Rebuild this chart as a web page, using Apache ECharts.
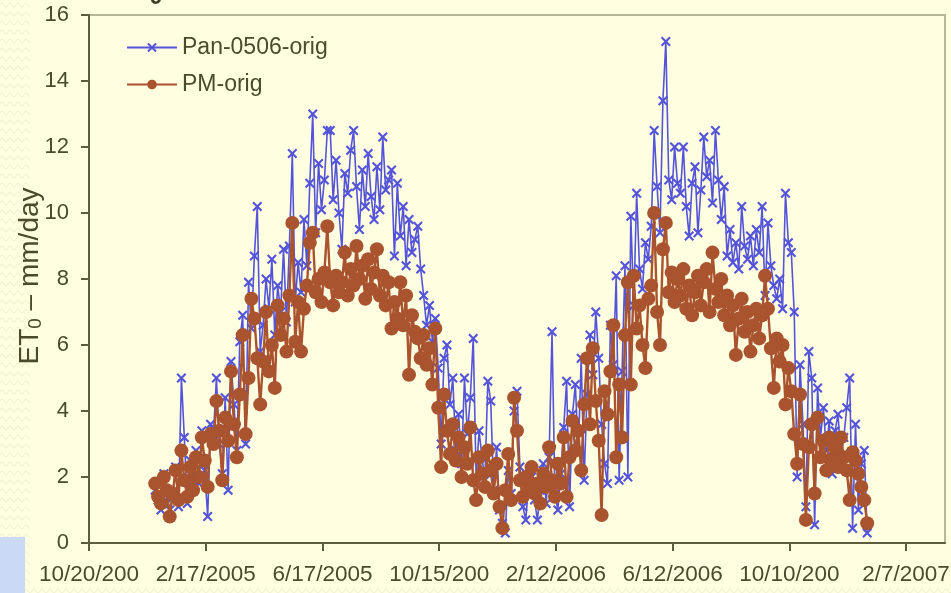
<!DOCTYPE html>
<html><head><meta charset="utf-8">
<script src="https://cdn.jsdelivr.net/npm/echarts@6/dist/echarts.min.js"></script>
<style>html,body{margin:0;padding:0;background:#fffee0}#c{width:951px;height:593px}</style>
</head><body><div id="c"></div>
<script>
// ---- data ----
const axisStart = '2004-10-20';          // x axis origin
const firstDate = '2004-12-27';          // first sample
const stepDays = 3;                      // days between samples
const tickDays = [0, 120, 240, 360, 480, 600, 720, 840];
const tickLabels = ['10/20/200', '2/17/2005', '6/17/2005', '10/15/200', '2/12/2006', '6/12/2006', '10/10/200', '2/7/2007'];
const yTicks = [0, 2, 4, 6, 8, 10, 12, 14, 16];

const pan = [
1.6,1.3,1.0,2.1,1.2,1.0,1.4,2.3,1.1,5.0,
3.2,1.2,2.5,1.9,2.8,1.8,3.4,2.2,0.8,3.6,
3.3,5.0,3.0,2.1,4.4,1.6,5.5,4.2,2.8,6.1,
6.9,3.0,7.9,6.5,8.7,10.2,5.8,6.6,8.0,7.1,
8.6,6.3,7.8,7.0,8.9,6.7,9.0,11.8,7.3,8.5,
7.6,9.8,8.4,10.9,13.0,9.4,11.5,10.1,11.0,12.5,
12.5,10.4,11.6,10.0,8.9,11.2,10.6,11.9,12.5,10.8,
9.5,11.3,10.2,11.8,10.5,9.8,11.4,10.1,12.3,10.7,
11.0,11.3,8.7,10.9,9.3,10.2,8.4,9.8,8.8,9.2,
9.6,8.3,7.5,6.6,7.2,6.1,6.8,5.3,3.0,5.6,
6.0,4.2,5.0,2.8,3.9,2.4,5.0,3.3,4.4,6.2,
2.0,3.4,2.6,1.9,4.9,4.3,1.6,2.9,1.0,0.6,
0.3,2.2,1.5,4.0,4.6,2.3,1.1,0.7,1.8,2.0,
1.3,0.7,1.6,2.4,1.2,2.6,6.4,1.5,1.0,2.1,
3.5,4.9,1.1,3.9,4.8,2.7,5.6,1.9,4.5,6.3,
5.1,7.0,5.6,3.6,2.4,1.8,6.6,5.4,8.1,1.9,
5.2,8.4,2.0,9.9,7.2,10.6,8.3,7.7,9.1,8.6,
9.6,12.5,10.8,9.4,13.4,15.2,11.0,10.4,12.0,10.9,
10.6,12.0,10.2,9.3,10.9,11.4,9.4,10.7,12.3,11.1,
11.6,10.3,12.5,11.0,9.8,10.8,8.7,9.5,8.5,9.1,
8.3,10.2,9.0,8.6,9.3,8.4,9.5,8.8,10.2,7.5,
9.7,8.4,7.8,7.4,8.0,7.1,10.6,9.1,8.8,7.0,
2.0,5.4,3.6,1.1,5.8,5.0,0.55,4.7,3.2,4.1,
2.8,3.7,2.1,3.4,3.9,2.6,3.2,4.1,5.0,0.45,
3.6,1.0,2.4,2.8,0.3
];

const pm = [
1.8,1.4,1.2,2.0,1.6,0.8,1.5,2.2,1.3,2.8,
1.9,1.4,2.3,1.6,2.6,2.0,3.2,2.5,1.7,3.3,
3.0,4.3,3.4,1.9,3.8,3.1,5.2,3.6,2.6,4.5,
6.3,3.3,5.0,7.4,6.8,5.6,4.2,5.5,7.0,5.2,
6.0,4.7,7.2,6.3,6.8,5.8,7.5,9.7,6.1,7.3,
5.8,7.1,7.8,9.1,9.4,7.6,8.0,7.3,8.2,9.6,
7.9,7.2,8.1,7.6,7.9,8.8,7.5,8.3,7.8,9.0,
8.0,8.4,7.4,8.6,7.7,8.2,8.9,7.5,8.1,7.2,
7.9,6.5,7.3,6.8,7.9,6.6,7.5,5.1,6.9,6.4,
6.2,5.6,6.3,5.4,5.9,4.8,6.5,4.1,2.3,4.5,
3.4,2.7,3.6,2.5,3.2,2.0,2.9,2.4,3.5,1.9,
1.3,2.6,2.1,1.7,2.8,2.2,1.5,2.4,1.1,0.45,
1.6,2.7,1.3,4.4,3.4,1.9,1.4,2.0,1.6,2.3,
1.5,1.8,1.2,2.1,1.7,2.9,1.9,1.4,2.4,1.8,
3.2,1.4,2.6,3.7,2.8,3.4,2.2,4.2,5.6,3.6,
5.9,4.3,3.1,0.85,4.6,3.9,5.2,6.6,2.6,4.8,
3.2,6.3,7.9,4.8,8.1,6.5,7.2,6.0,5.3,7.4,
7.8,10.0,7.0,6.0,8.9,9.7,7.6,8.2,7.3,8.0,
7.5,8.3,7.1,7.8,6.9,7.6,8.1,7.2,7.9,8.3,
7.0,8.8,7.7,7.3,8.0,6.9,7.5,6.6,7.2,5.7,
6.8,7.4,6.4,7.0,5.8,6.6,7.1,6.2,6.9,8.1,
7.1,5.9,4.7,6.2,5.5,6.0,4.2,5.3,4.6,3.3,
2.4,4.5,3.0,0.7,2.9,3.6,1.5,3.8,2.6,3.1,
2.2,3.2,2.5,2.9,2.3,3.2,2.6,2.2,1.3,2.75,
2.5,2.1,1.7,1.3,0.6
];

// ---- build ----
const DAY = 86400000;
const offset0 = (Date.parse(firstDate) - Date.parse(axisStart)) / DAY;
const toPairs = arr => arr.map((v, i) => [offset0 + i * stepDays, v]);

const txt = '#4b4b2c';
const axisCol = '#5d5d3e';
const font = "'Liberation Sans', Arial, sans-serif";
const xSym = 'path://M0,1.5L1.5,0L5,3.5L8.5,0L10,1.5L6.5,5L10,8.5L8.5,10L5,6.5L1.5,10L0,8.5L3.5,5Z';

// wavy texture for the border area
const pc = document.createElement('canvas');
pc.width = 8; pc.height = 9;
const g = pc.getContext('2d');
g.fillStyle = '#fffee0'; g.fillRect(0, 0, 8, 9);
g.strokeStyle = '#f1efcf'; g.lineWidth = 1;
g.beginPath(); g.moveTo(0, 5); g.quadraticCurveTo(2, 1, 4, 5); g.quadraticCurveTo(6, 9, 8, 5); g.stroke();

const chart = echarts.init(document.getElementById('c'), null, {renderer: 'canvas'});
chart.setOption({
  animation: false,
  backgroundColor: '#fffee0',
  textStyle: {fontFamily: font},
  grid: {left: 89, top: 15, right: 6, bottom: 50, show: true, borderColor: '#b6b69a', borderWidth: 2,
         backgroundColor: '#fffee0', outerBoundsMode: 'none', containLabel: false},
  legend: {
    left: 121, top: 31, orient: 'vertical', itemWidth: 50, itemHeight: 12, itemGap: 14,
    textStyle: {color: txt, fontSize: 23, fontFamily: font},
    data: ['Pan-0506-orig', 'PM-orig']
  },
  xAxis: {
    type: 'value', min: 0, max: 880, interval: 120,
    axisLine: {lineStyle: {color: axisCol, width: 2}},
    axisTick: {show: true, length: 8, lineStyle: {color: axisCol, width: 2}, customValues: tickDays},
    axisLabel: {color: txt, fontSize: 22.5, margin: 20, fontFamily: font, customValues: tickDays,
      formatter: v => { const k = tickDays.indexOf(v); return k >= 0 ? tickLabels[k] : ''; }},
    splitLine: {show: false}
  },
  yAxis: {
    type: 'value', min: 0, max: 16, interval: 2,
    axisLine: {show: true, lineStyle: {color: axisCol, width: 2}},
    axisTick: {show: true, length: 8, lineStyle: {color: axisCol, width: 2}},
    axisLabel: {color: txt, fontSize: 22, margin: 20, fontFamily: font,
      formatter: v => yTicks.includes(v) ? String(v) : ''},
    splitLine: {show: false}
  },
  graphic: [
    {type: 'rect', left: 0, top: 0, z: -10, shape: {width: 30, height: 593}, style: {fill: {image: pc, repeat: 'repeat'}}},
    {type: 'rect', left: 0, top: 586, z: -10, shape: {width: 951, height: 7}, style: {fill: {image: pc, repeat: 'repeat'}}},
    {type: 'rect', left: 0, top: 537, z: -5, shape: {width: 25, height: 56}, style: {fill: '#cad9f6'}},
    {type: 'text', x: 156, y: 9, style: {text: '0', font: "bold 24px " + font, fill: '#3f3f25', align: 'center', verticalAlign: 'bottom'}},
    {type: 'text', x: 30, y: 276, rotation: Math.PI / 2,
     style: {text: '{a|ET}{b|0}{a| – mm/day}', align: 'center', verticalAlign: 'middle',
       rich: {a: {fontSize: 28, fontFamily: font, fill: txt, color: txt},
              b: {fontSize: 19, fontFamily: font, fill: txt, color: txt, padding: [12, 0, 0, 0]}}}}
  ],
  series: [
    {name: 'Pan-0506-orig', type: 'line', data: toPairs(pan), symbol: xSym, symbolSize: 10,
     lineStyle: {color: '#5454da', width: 1.6}, itemStyle: {color: '#5454da'}, z: 2},
    {name: 'PM-orig', type: 'line', data: toPairs(pm), symbol: 'circle', symbolSize: 14,
     lineStyle: {color: '#a9532f', width: 2.4}, itemStyle: {color: '#a9532f'}, z: 3}
  ]
});
</script></body></html>
